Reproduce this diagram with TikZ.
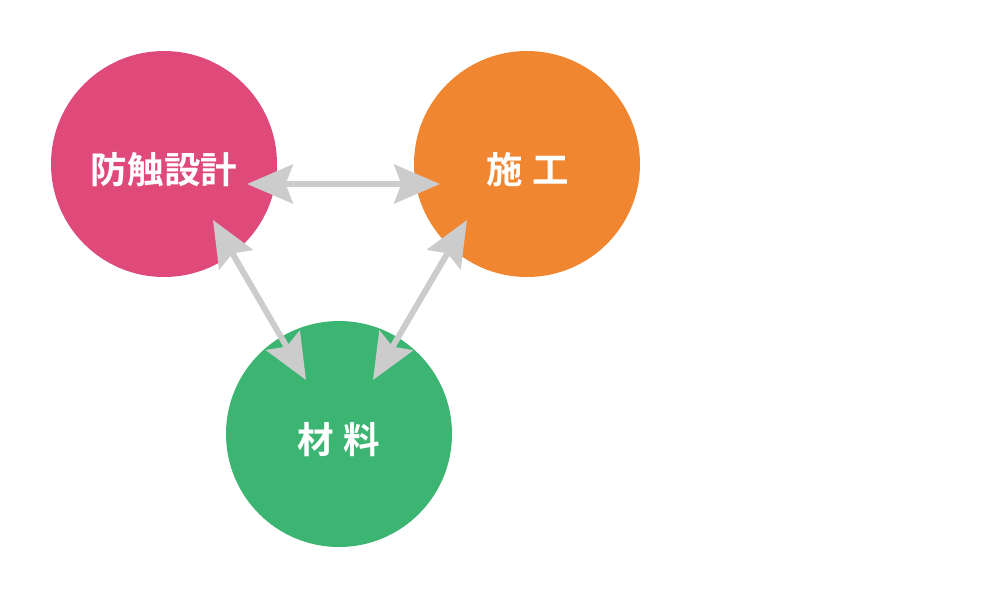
\documentclass[tikz,border=0pt]{standalone}
\usepackage{fontspec}
\newfontfamily\jp{Noto Sans CJK JP}[BoldFont={* Bold}]
\usetikzlibrary{arrows.meta}
\definecolor{cpink}{HTML}{E04A7A}
\definecolor{corange}{HTML}{F0862F}
\definecolor{cgreen}{HTML}{3DB572}
\definecolor{cgrey}{HTML}{CCCCCC}
\begin{document}
\begin{tikzpicture}[x=0.02cm,y=-0.02cm,
  blob/.style={circle,minimum size=226*0.02cm,inner sep=0pt},
  label/.style={text=white,font=\jp\bfseries\fontsize{20.8}{24}\selectfont},
  link/.style={draw=cgrey,line width=3.4pt,{Stealth[length=26pt,width=22pt,inset=4pt]}-{Stealth[length=26pt,width=22pt,inset=4pt]}}]
\useasboundingbox[fill=white] (0,0) rectangle (1000,600);
\node[blob,fill=cpink] (pink) at (164,164) {};
\node[blob,fill=corange] (orange) at (527,164) {};
\node[blob,fill=cgreen] (green) at (339,434) {};
\node[label] (t1) at (164,170) {防触設計};
\node[label] (t2) at (528,170) {施\hspace{0.25em}工};
\node[label] (t3) at (339,440) {材\hspace{0.25em}料};
\coordinate (a1) at (247,184);
\coordinate (a2) at (440,184);
\coordinate (b1) at (213,220);
\coordinate (b2) at (306,380);
\coordinate (c1) at (467,220);
\coordinate (c2) at (373,380);
\draw[link] (a1) -- (a2);
\draw[link] (b1) -- (b2);
\draw[link] (c1) -- (c2);
\end{tikzpicture}
\end{document}
